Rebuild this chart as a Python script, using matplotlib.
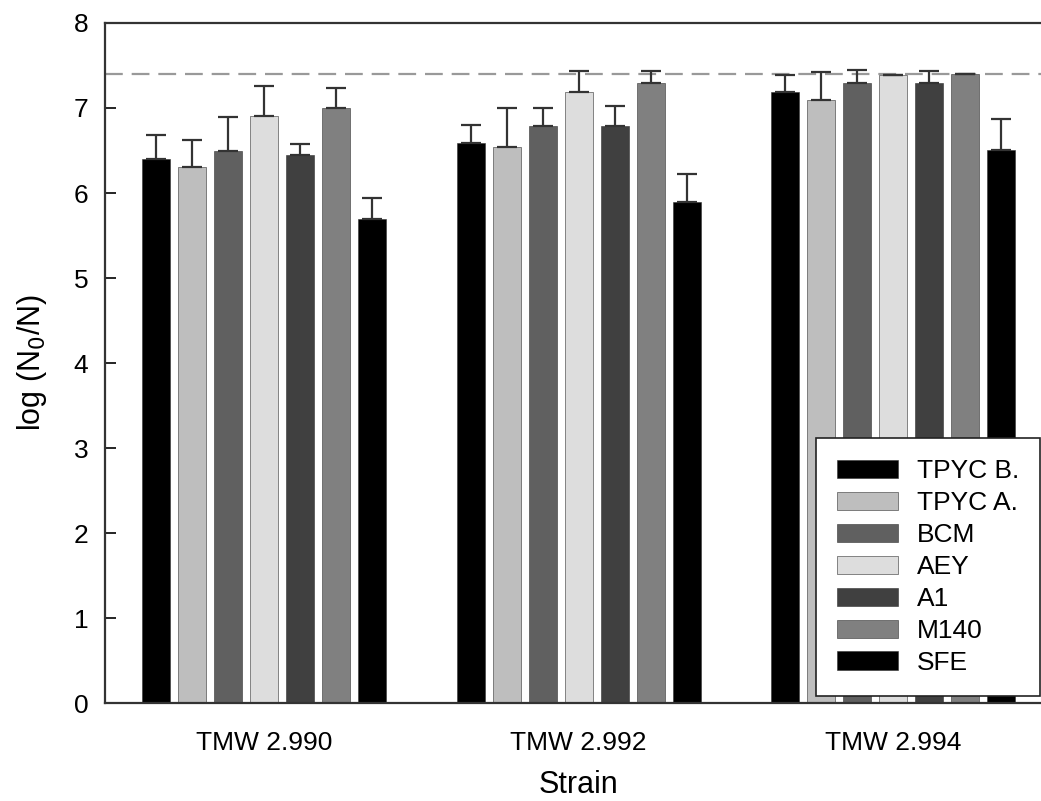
import numpy as np
import matplotlib.pyplot as plt

plt.rcParams['font.family'] = ['Liberation Sans', 'DejaVu Sans']

strains = ['TMW 2.990', 'TMW 2.992', 'TMW 2.994']
series = ['TPYC B.', 'TPYC A.', 'BCM', 'AEY', 'A1', 'M140', 'SFE']
colors = ['#000000', '#bebebe', '#606060', '#dddddd', '#404040', '#808080', '#000000']

# mean log reduction per series, one value per strain
tpyc_b = [6.40, 6.59, 7.19]
tpyc_a = [6.30, 6.54, 7.09]
bcm = [6.49, 6.79, 7.29]
aey = [6.90, 7.19, 7.39]
a1 = [6.45, 6.79, 7.29]
m140 = [7.00, 7.29, 7.40]
sfe = [5.70, 5.90, 6.50]

# upper error (sd)
tpyc_b_err = [0.28, 0.21, 0.20]
tpyc_a_err = [0.32, 0.46, 0.33]
bcm_err = [0.40, 0.21, 0.16]
aey_err = [0.36, 0.25, 0.0]
a1_err = [0.13, 0.23, 0.14]
m140_err = [0.23, 0.14, 0.0]
sfe_err = [0.24, 0.32, 0.37]

detection_limit = 7.4

means = [tpyc_b, tpyc_a, bcm, aey, a1, m140, sfe]
errs = [tpyc_b_err, tpyc_a_err, bcm_err, aey_err, a1_err, m140_err, sfe_err]

fig = plt.figure(figsize=(10.41, 8.01), dpi=100)
ax = fig.add_axes([0.1009, 0.1223, 0.9097, 0.849])

x = np.arange(len(strains))
step = 0.1145
width = 0.089
for i, (name, m, e, c) in enumerate(zip(series, means, errs, colors)):
    pos = x + (i - 3) * step
    ax.bar(pos, m, width, color=c, edgecolor='#333333', linewidth=0.4, label=name, zorder=2)
    ax.errorbar(pos, m, yerr=[np.zeros(len(e)), e], fmt='none', ecolor='#333333',
                elinewidth=1.6, capsize=7, capthick=1.6, zorder=3)

ax.axhline(detection_limit, color='#999999', lw=1.6, dashes=(8, 4), zorder=1)

ax.set_xlim(-0.506, 2.506)
ax.set_ylim(0, 8)
ax.set_xticks(x)
ax.set_xticklabels(strains)
ax.tick_params(axis='x', length=0, labelsize=19, pad=20)
ax.tick_params(axis='y', direction='in', length=8, width=1.2, labelsize=19, pad=12)
for s in ax.spines.values():
    s.set_linewidth(1.6)
    s.set_color('#333333')

ax.set_xlabel('Strain', fontsize=22, labelpad=11)
ax.set_ylabel('log (N$_0$/N)', fontsize=22, labelpad=18)

leg = ax.legend(loc='lower right', bbox_to_anchor=(0.999, 0.131), bbox_transform=fig.transFigure,
                fontsize=19, frameon=True, fancybox=False, framealpha=1, edgecolor='#222222',
                handlelength=2.3, handleheight=0.7, handletextpad=0.7, labelspacing=0.3,
                borderpad=0.8, borderaxespad=0)
leg.get_frame().set_linewidth(1.2)
leg.set_zorder(5)

fig.savefig('out.png', dpi=100)
